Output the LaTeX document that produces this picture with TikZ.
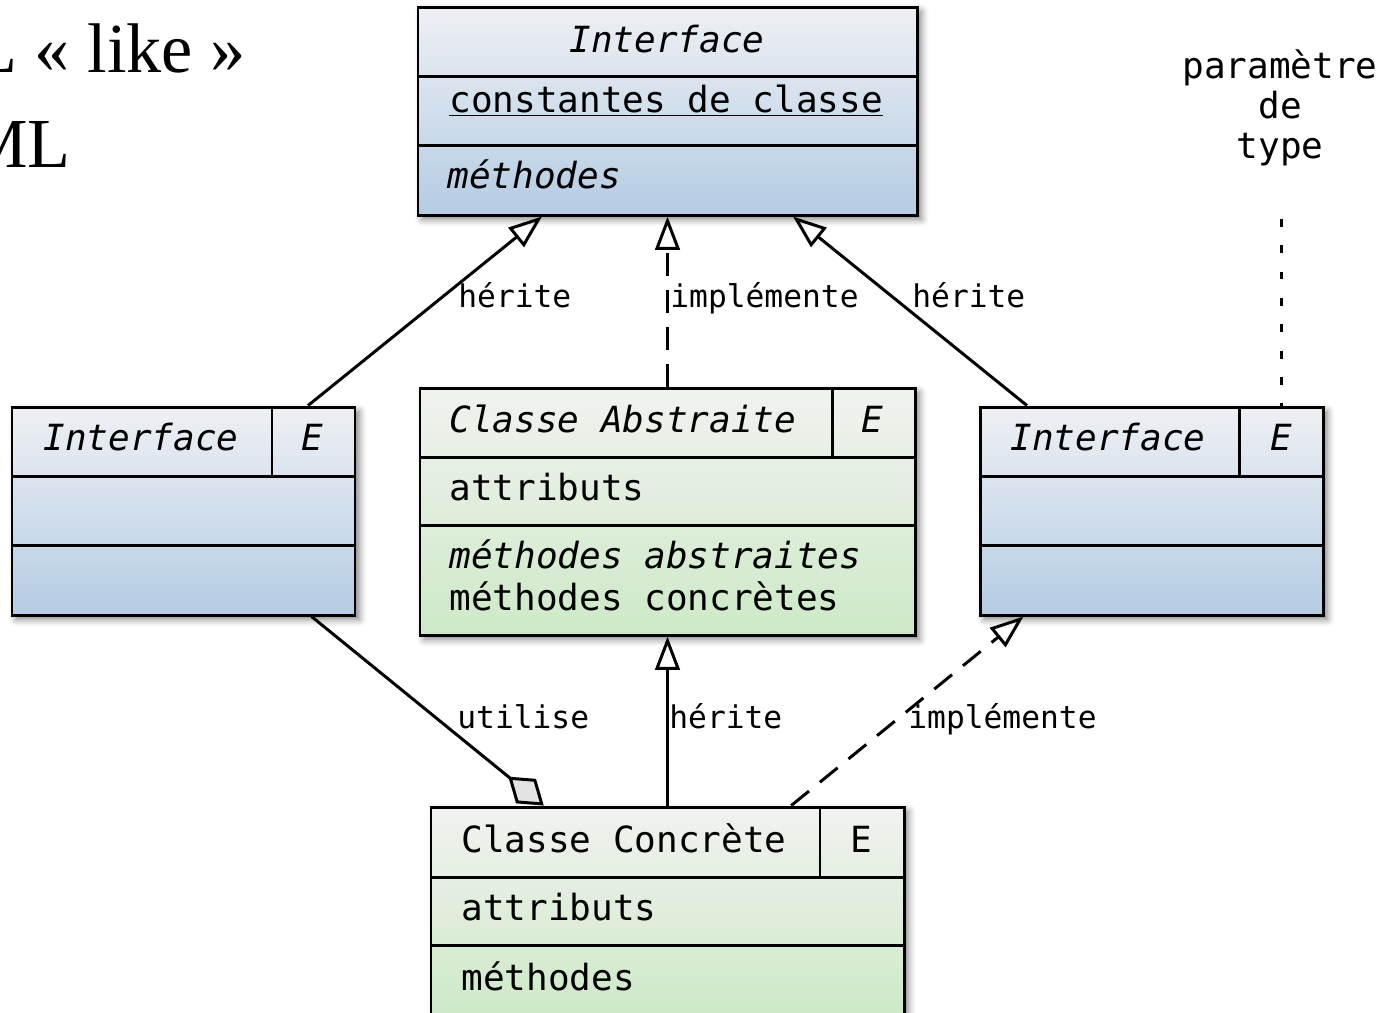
\documentclass[tikz,border=0pt]{standalone}
\usepackage{fontspec}
\setmainfont{Liberation Serif}
\setmonofont{DejaVu Sans Mono}
\usepackage{xcolor}
\usetikzlibrary{arrows.meta,calc,fit,shadows.blur}

\definecolor{ifacetop}{RGB}{238,240,243}
\definecolor{ifacebot}{RGB}{180,204,228}
\definecolor{classtop}{RGB}{241,242,240}
\definecolor{classbot}{RGB}{205,233,199}

\newcommand{\boxfont}{\ttfamily\fontsize{20.5}{22.7}\selectfont}
\newcommand{\relfont}{\ttfamily\fontsize{17.8}{20}\selectfont}

\begin{document}
\begin{tikzpicture}[
    x=0.02cm, y=-0.02cm,
    frame/.style={draw=black, line width=1.7pt, inner sep=0pt,
        blur shadow={shadow xshift=2.5pt, shadow yshift=-2.5pt,
            shadow blur radius=4pt, shadow opacity=50}},
    iface/.style={frame, top color=ifacetop, bottom color=ifacebot},
    cls/.style={frame, top color=classtop, bottom color=classbot},
    rule/.style={line width=1.7pt},
    txt/.style={font=\boxfont, inner sep=0pt, anchor=base west},
    mid/.style={txt, anchor=base},
    rel/.style={font=\relfont, inner sep=0pt, anchor=base west},
    link/.style={line width=1.7pt},
    herit/.style={link, -{Triangle[open, length=19pt, width=14pt]}},
    impl/.style={herit, dash pattern=on 13pt off 8pt},
    uses/.style={link, -{Diamond[open, fill=gray!22, length=26pt, width=18pt]}},
    typeline/.style={line width=1.7pt, dash pattern=on 4.5pt off 10.5pt},
]
    \useasboundingbox (0,0) rectangle (1394,1012);

    % titre (coupe a gauche)
    \node[font=\fontsize{40}{44}\selectfont, inner sep=0pt, anchor=base west]
        (head1) at (-26,72) {L « like »};
    \node[font=\fontsize{40}{44}\selectfont, inner sep=0pt, anchor=base west]
        (head2) at (-35,167) {ML};

    % interface du haut
    \node[iface, fit={(418,7) (917,215)}] (itop) {};
    \draw[rule] (418,76) -- (917,76);
    \draw[rule] (418,145) -- (917,145);
    \node[mid] (itop-name) at (667,52) {\itshape Interface};
    \node[txt] (itop-const) at (449,112) {\underline{constantes de classe}};
    \node[txt] (itop-meth) at (447,188) {\itshape méthodes};

    % interface de gauche
    \node[iface, fit={(12,407) (355,615)}] (ileft) {};
    \draw[rule] (12,476) -- (355,476);
    \draw[rule] (12,545) -- (355,545);
    \draw[rule] (272,407) -- (272,476);
    \node[mid] (ileft-name) at (141,450) {\itshape Interface};
    \node[mid] (ileft-E) at (312,450) {\itshape E};

    % classe abstraite
    \node[cls, fit={(420,388) (915,635)}] (abst) {};
    \draw[rule] (420,457) -- (915,457);
    \draw[rule] (420,525) -- (915,525);
    \draw[rule] (832,388) -- (832,457);
    \node[txt] (abst-name) at (449,432) {\itshape Classe Abstraite};
    \node[mid] (abst-E) at (872,432) {\itshape E};
    \node[txt] (abst-attr) at (449,500) {attributs};
    \node[txt] (abst-meth1) at (449,568) {\itshape méthodes abstraites};
    \node[txt] (abst-meth2) at (449,610) {méthodes concrètes};

    % interface de droite
    \node[iface, fit={(980,407) (1323,615)}] (iright) {};
    \draw[rule] (980,476) -- (1323,476);
    \draw[rule] (980,545) -- (1323,545);
    \draw[rule] (1239,407) -- (1239,476);
    \node[mid] (iright-name) at (1108,450) {\itshape Interface};
    \node[mid] (iright-E) at (1281,450) {\itshape E};

    % classe concrete
    \node[cls, fit={(431,807) (904,1016)}] (conc) {};
    \draw[rule] (431,877) -- (904,877);
    \draw[rule] (431,945) -- (904,945);
    \draw[rule] (820,807) -- (820,877);
    \node[txt] (conc-name) at (461,852) {Classe Concrète};
    \node[mid] (conc-E) at (861,852) {E};
    \node[txt] (conc-attr) at (461,920) {attributs};
    \node[txt] (conc-meth) at (461,990) {méthodes};

    % parametre de type (base = ligne du bas)
    \node[font=\boxfont, align=center, inner sep=0pt, anchor=base]
        (ptype) at (1280,158) {paramètre\\de\\type};
    \draw[typeline, shorten <=1.06cm] (ptype.south -| iright-E) -- (iright-E |- iright.north);

    % relations
    \draw[herit] ($(ileft.north west)!.86!(ileft.north east)$)
        -- ($(itop.south west)!.25!(itop.south east)$);
    \draw[impl] (abst.north) -- (itop.south);
    \draw[herit] ($(iright.north west)!.14!(iright.north east)$)
        -- ($(itop.south west)!.75!(itop.south east)$);
    \draw[uses] ($(ileft.south west)!.87!(ileft.south east)$)
        -- ($(conc.north west)!.24!(conc.north east)$);
    \draw[herit] (conc.north) -- (abst.south);
    \draw[impl] ($(conc.north west)!.76!(conc.north east)$)
        -- ($(iright.south west)!.13!(iright.south east)$);

    \node[rel] (lab-h1) at (458,307) {hérite};
    \node[rel] (lab-i1) at (670,307) {implémente};
    \node[rel] (lab-h2) at (912,307) {hérite};
    \node[rel] (lab-u) at (457,728) {utilise};
    \node[rel] (lab-h3) at (669,728) {hérite};
    \node[rel] (lab-i2) at (908,728) {implémente};
\end{tikzpicture}
\end{document}
